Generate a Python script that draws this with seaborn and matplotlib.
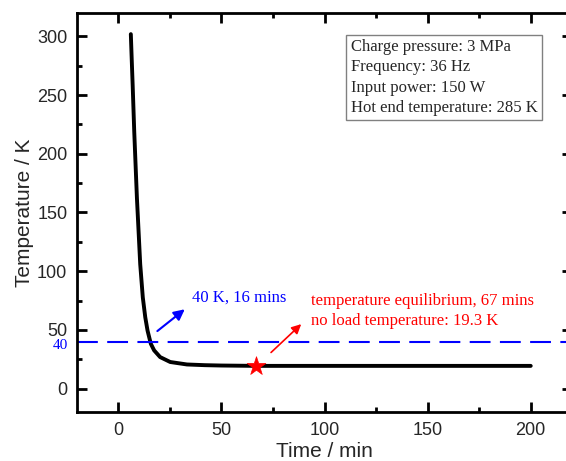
import pandas as pd
import matplotlib.pyplot as plt
import seaborn as sns
from matplotlib.ticker import MultipleLocator

# cool-down curve
time_min = [6.1, 6.5, 7.0, 7.75, 8.4, 9.05, 9.85, 10.65, 11.9, 13.1, 14.2, 15.0,
            15.8, 17.4, 20.3, 25.2, 33.3, 42.0, 50.0, 67.0, 100.0, 150.0, 200.0]
temp_k = [302, 282, 258, 219, 190.6, 162.4, 134.2, 105.9, 77.7, 60.7, 49.4, 43.7,
          38.1, 32.5, 26.8, 22.6, 20.5, 19.9, 19.6, 19.3, 19.3, 19.3, 19.3]

ref_temp = 40
eq_time = [67]
eq_temp = [19.3]

info_lines = ["Charge pressure: 3 MPa", "Frequency: 36 Hz",
              "Input power: 150 W", "Hot end temperature: 285 K"]

df = pd.DataFrame({'Time': time_min, 'Temperature': temp_k})

sns.set_theme(style="ticks")
plt.rcParams['font.family'] = ['Liberation Sans', 'DejaVu Sans']
serif = ['Liberation Serif', 'DejaVu Serif']

fig = plt.figure(figsize=(5.66, 4.61), dpi=100)
ax = fig.add_axes([77 / 566, 1 - 412 / 461, (572 - 77) / 566, (412 - 13) / 461])

sns.lineplot(data=df, x='Time', y='Temperature', color='black', linewidth=2.8, ax=ax)
ax.axhline(ref_temp, color='blue', linestyle=(0, (10, 4.5)), linewidth=1.5)
sns.scatterplot(x=eq_time, y=eq_temp, marker='*', s=200, color='red',
                edgecolor='red', linewidth=0.5, ax=ax, zorder=5)

# annotations
ax.annotate('', xy=(33.3, 69), xytext=(17.9, 47.5),
            arrowprops=dict(arrowstyle='-|>', color='blue', lw=1.5, mutation_scale=16))
ax.text(35.6, 77.6, '40 K, 16 mins', color='blue', family=serif, fontsize=12, va='center')
ax.annotate('', xy=(89.7, 56.5), xytext=(73.1, 29.1),
            arrowprops=dict(arrowstyle='-|>', color='red', lw=1.2, mutation_scale=14))
ax.text(93.3, 74.8, 'temperature equilibrium, 67 mins', color='red', family=serif,
        fontsize=12, va='center')
ax.text(93.3, 57.3, 'no load temperature: 19.3 K', color='red', family=serif,
        fontsize=12, va='center')

# extra blue "40" label on the y axis
ax.text(-0.018, ref_temp - 3, str(ref_temp), color='blue', family=serif, fontsize=11,
        ha='right', va='center', transform=ax.get_yaxis_transform())

ax.text(0.553, 0.935, '\n'.join(info_lines), transform=ax.transAxes, family=serif,
        fontsize=12, va='top', ha='left', linespacing=1.36,
        bbox=dict(boxstyle='square,pad=0.26', facecolor='white', edgecolor='grey', linewidth=1))

ax.set_xlim(-20, 220)
ax.set_ylim(-20, 320)
ax.xaxis.set_major_locator(MultipleLocator(50))
ax.xaxis.set_minor_locator(MultipleLocator(25))
ax.yaxis.set_major_locator(MultipleLocator(50))
ax.yaxis.set_minor_locator(MultipleLocator(25))
ax.tick_params(which='both', direction='in', top=True, right=True, width=2, labelsize=13, color='black')
ax.tick_params(which='major', length=7, pad=7)
ax.tick_params(which='minor', length=3.5)
for s in ax.spines.values():
    s.set_linewidth(2)
    s.set_color('black')

ax.set_xlabel('Time / min', fontsize=15, labelpad=2)
ax.set_ylabel('Temperature / K', fontsize=15)
ax.yaxis.set_label_coords(-0.086, 0.5)

plt.savefig('out.png', dpi=100)
